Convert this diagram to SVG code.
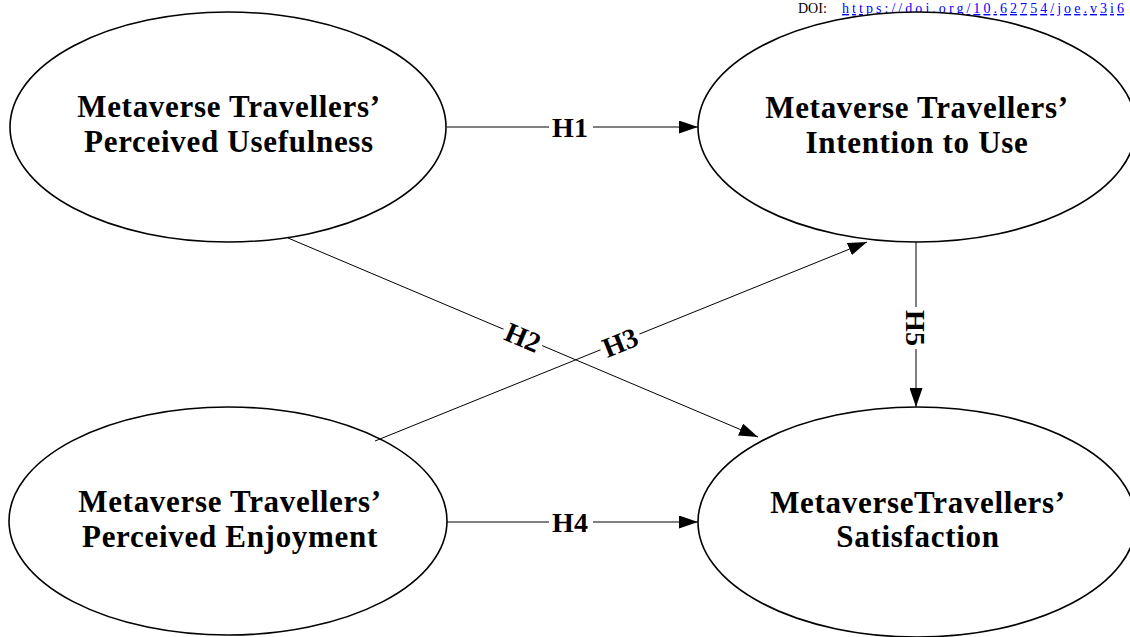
<svg xmlns="http://www.w3.org/2000/svg" width="1130" height="637" viewBox="0 0 1130 637">
  <style>
    .node { fill: #fff; stroke: #000; stroke-width: 1.6; }
    .nt { font-family: "Liberation Serif", "Times New Roman", serif; font-weight: bold; font-size: 31px; letter-spacing: 0.7px; text-anchor: middle; fill: #000; }
    .edge { stroke: #000; stroke-width: 1; fill: none; marker-end: url(#arr); }
    .lbl { font-family: "Liberation Serif", "Times New Roman", serif; font-weight: bold; font-size: 28px; text-anchor: middle; fill: #000; }
    .bg { fill: #fff; }
    .hdr { font-family: "Liberation Serif", "Times New Roman", serif; font-size: 14px; }
  </style>
  <defs>
    <marker id="arr" markerUnits="userSpaceOnUse" markerWidth="20" markerHeight="13" refX="19" refY="6.5" orient="auto">
      <path d="M0,0 L19,6.5 L0,13 z" fill="#000"/>
    </marker>
  </defs>
  <rect width="1130" height="637" fill="#fff"/>
  <text class="hdr" x="798" y="13" fill="#000">DOI: <tspan x="842" fill="#0000ff" text-decoration="underline" textLength="282" lengthAdjust="spacing">https://doi.org/10.62754/joe.v3i6</tspan></text>

  <g id="node-usefulness">
    <ellipse class="node" cx="228" cy="127" rx="218" ry="115"/>
    <text class="nt" x="229" y="117">Metaverse Travellers’</text>
    <text class="nt" x="229" y="152">Perceived Usefulness</text>
  </g>
  <g id="node-intention">
    <ellipse class="node" cx="917" cy="127" rx="219" ry="115"/>
    <text class="nt" x="917" y="118">Metaverse Travellers’</text>
    <text class="nt" x="917" y="153">Intention to Use</text>
  </g>
  <g id="node-enjoyment">
    <ellipse class="node" cx="228" cy="521" rx="219" ry="114"/>
    <text class="nt" x="230" y="512">Metaverse Travellers’</text>
    <text class="nt" x="230" y="547">Perceived Enjoyment</text>
  </g>
  <g id="node-satisfaction">
    <ellipse class="node" cx="917" cy="522" rx="219" ry="115"/>
    <text class="nt" x="918" y="513">MetaverseTravellers’</text>
    <text class="nt" x="918" y="547">Satisfaction</text>
  </g>

  <g id="connectors">
    <line class="edge" x1="447" y1="127" x2="698" y2="127"/>
    <line class="edge" x1="288" y1="238" x2="758" y2="437"/>
    <line class="edge" x1="375" y1="441" x2="867" y2="242"/>
    <line class="edge" x1="447" y1="522" x2="698" y2="522"/>
    <line class="edge" x1="916" y1="242" x2="916" y2="407"/>

    <rect class="bg" x="549" y="114" width="44" height="26"/>
    <text class="lbl" x="570" y="137">H1</text>
    <rect class="bg" x="549" y="509" width="44" height="26"/>
    <text class="lbl" x="570" y="532">H4</text>
    <g transform="translate(916,328) rotate(90)">
      <rect class="bg" x="-21" y="-12" width="42" height="24"/>
      <text class="lbl" x="0" y="10">H5</text>
    </g>
    <g transform="translate(523,337) rotate(22.9)">
      <rect class="bg" x="-21" y="-12" width="42" height="24"/>
      <text class="lbl" x="0" y="10">H2</text>
    </g>
    <g transform="translate(620,342) rotate(-22)">
      <rect class="bg" x="-21" y="-12" width="42" height="24"/>
      <text class="lbl" x="0" y="10">H3</text>
    </g>
  </g>
</svg>
